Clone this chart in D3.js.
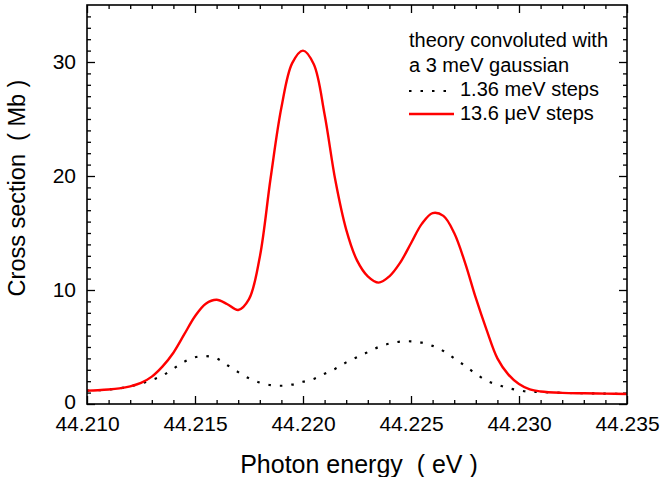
<!DOCTYPE html>
<meta charset="utf-8">
<script src="https://d3js.org/d3.v7.min.js"></script>
<style>
  body { margin: 0; background: #fff; }
  text { font-family: "Liberation Sans", Arial, sans-serif; fill: #000; }
</style>
<div id="chart"></div>
<script>

// photon energy (eV)
var energy = [44.2100, 44.2105, 44.2110, 44.2115, 44.2120, 44.2125, 44.2130, 44.2135, 44.2140, 44.2145,
              44.2150, 44.2155, 44.2160, 44.2165, 44.2170, 44.2175, 44.2180, 44.2185, 44.2190, 44.2195,
              44.2200, 44.2205, 44.2210, 44.2215, 44.2220, 44.2225, 44.2230, 44.2235, 44.2240, 44.2245,
              44.2250, 44.2255, 44.2260, 44.2265, 44.2270, 44.2275, 44.2280, 44.2285, 44.2290, 44.2295,
              44.2300, 44.2305, 44.2310, 44.2320, 44.2330, 44.2340, 44.2350];

// cross section (Mb), 13.6 ueV steps
var fineSteps = [1.17, 1.21, 1.27, 1.37, 1.55, 1.85, 2.4, 3.3, 4.5, 6.1,
                 7.7, 8.8, 9.15, 8.75, 8.25, 9.2, 12.9, 19.8, 26.0, 29.9,
                 31.0, 29.8, 25.4, 19.6, 15.3, 12.6, 11.2, 10.65, 11.2, 12.4,
                 14.1, 15.8, 16.75, 16.5, 15.0, 12.4, 9.3, 6.5, 4.0, 2.6,
                 1.75, 1.28, 1.1, 0.98, 0.94, 0.91, 0.88];

// cross section (Mb), 1.36 meV steps
var coarseSteps = [1.17, 1.21, 1.27, 1.37, 1.55, 1.8, 2.1, 2.5, 3.1, 3.7,
                   4.1, 4.2, 4.0, 3.4, 2.8, 2.25, 1.88, 1.66, 1.6, 1.7,
                   1.95, 2.2, 2.65, 3.1, 3.65, 4.1, 4.55, 5.0, 5.3, 5.47,
                   5.5, 5.38, 5.1, 4.65, 4.0, 3.35, 2.65, 2.05, 1.7, 1.4,
                   1.2, 1.07, 1.05, 0.98, 0.94, 0.91, 0.88];

var xMajor = [44.210, 44.215, 44.220, 44.225, 44.230, 44.235];
var yMajor = [0, 10, 20, 30];
var legendTitle = ["theory convoluted with", "a 3 meV gaussian"];
var seriesNames = ["1.36 meV steps", "13.6 \u03bceV steps"];

var margin = {top: 5, right: 37, bottom: 73, left: 87},
    width = 664 - margin.left - margin.right,
    height = 477 - margin.top - margin.bottom;

var svg = d3.select("#chart")
  .append("svg")
    .attr("width", 664)
    .attr("height", 477)
  .append("g")
    .attr("transform", "translate(" + margin.left + "," + margin.top + ")");

var x = d3.scaleLinear().domain([44.210, 44.235]).range([0, width]);
var y = d3.scaleLinear().domain([0, 35]).range([height, 0]);

// minor ticks every 0.001 eV and every 1 Mb
var xMinor = d3.range(0, 26).map(function(i) { return 44.210 + i * 0.001; })
  .filter(function(v) { return Math.round(v * 1000) % 5 != 0; });
var yMinor = d3.range(1, 35).filter(function(v) { return v % 10 != 0; });

function drawAxis(axis, transform) {
  var g = svg.append("g").attr("transform", transform).call(axis);
  g.select(".domain").remove();
  g.selectAll(".tick line").attr("stroke", "#000").attr("stroke-width", 1.3);
  return g;
}

// bottom
drawAxis(d3.axisBottom(x).tickValues(xMajor).tickSize(-8).tickPadding(12).tickFormat(d3.format(".3f")),
         "translate(0," + height + ")")
  .selectAll("text").style("font-size", "21px");
drawAxis(d3.axisBottom(x).tickValues(xMinor).tickSize(-4).tickFormat(""), "translate(0," + height + ")");
// top
drawAxis(d3.axisTop(x).tickValues(xMajor).tickSize(-8).tickFormat(""), "translate(0,0)");
drawAxis(d3.axisTop(x).tickValues(xMinor).tickSize(-4).tickFormat(""), "translate(0,0)");
// left
var yAxisG = drawAxis(d3.axisLeft(y).tickValues(yMajor).tickSize(-8).tickPadding(11), "translate(0,0)");
yAxisG.selectAll("text").style("font-size", "21px");
// the zero label sits a little higher so it clears the x labels
yAxisG.selectAll(".tick").filter(function(d) { return d === 0; }).select("text").attr("dy", "0.2em");
drawAxis(d3.axisLeft(y).tickValues(yMinor).tickSize(-4).tickFormat(""), "translate(0,0)");
// right
drawAxis(d3.axisRight(y).tickValues(yMajor).tickSize(-8).tickFormat(""), "translate(" + width + ",0)");
drawAxis(d3.axisRight(y).tickValues(yMinor).tickSize(-4).tickFormat(""), "translate(" + width + ",0)");

var line = d3.line()
  .x(function(d) { return x(d[0]); })
  .y(function(d) { return y(d[1]); })
  .curve(d3.curveCatmullRom.alpha(0.5));

svg.append("path")
  .datum(d3.zip(energy, coarseSteps))
  .attr("fill", "none")
  .attr("stroke", "#000")
  .attr("stroke-width", 2.2)
  .attr("stroke-dasharray", "2.5,9")
  .attr("d", line);

svg.append("path")
  .datum(d3.zip(energy, fineSteps))
  .attr("fill", "none")
  .attr("stroke", "#ff0000")
  .attr("stroke-width", 2.4)
  .attr("d", line);

// frame
svg.append("rect")
  .attr("width", width)
  .attr("height", height)
  .attr("fill", "none")
  .attr("stroke", "#000")
  .attr("stroke-width", 1.6);

// axis titles
svg.append("text")
  .attr("x", 359 - margin.left)
  .attr("y", 473 - margin.top)
  .attr("text-anchor", "middle")
  .style("font-size", "25px")
  .style("white-space", "pre")
  .text("Photon energy  ( eV )");

svg.append("text")
  .attr("transform", "translate(" + (25 - margin.left) + "," + (188 - margin.top) + ")rotate(-90)")
  .attr("text-anchor", "middle")
  .style("font-size", "23.5px")
  .style("white-space", "pre")
  .text("Cross section  ( Mb )");

// legend
var lg = svg.append("g").attr("transform", "translate(" + (409 - margin.left) + "," + (47 - margin.top) + ")");
lg.selectAll(".head")
  .data(legendTitle)
  .enter().append("text")
    .attr("x", 0)
    .attr("y", function(d, i) { return i * 25; })
    .style("font-size", "20px")
    .text(function(d) { return d; });

lg.append("line")
  .attr("x1", 0).attr("x2", 40)
  .attr("y1", 44).attr("y2", 44)
  .attr("stroke", "#000")
  .attr("stroke-width", 2.2)
  .attr("stroke-dasharray", "2.5,9");
lg.append("line")
  .attr("x1", 0).attr("x2", 45)
  .attr("y1", 67).attr("y2", 67)
  .attr("stroke", "#ff0000")
  .attr("stroke-width", 2.4);

lg.selectAll(".name")
  .data(seriesNames)
  .enter().append("text")
    .attr("x", 51)
    .attr("y", function(d, i) { return 49 + i * 24; })
    .style("font-size", "20px")
    .text(function(d) { return d; });

</script>
